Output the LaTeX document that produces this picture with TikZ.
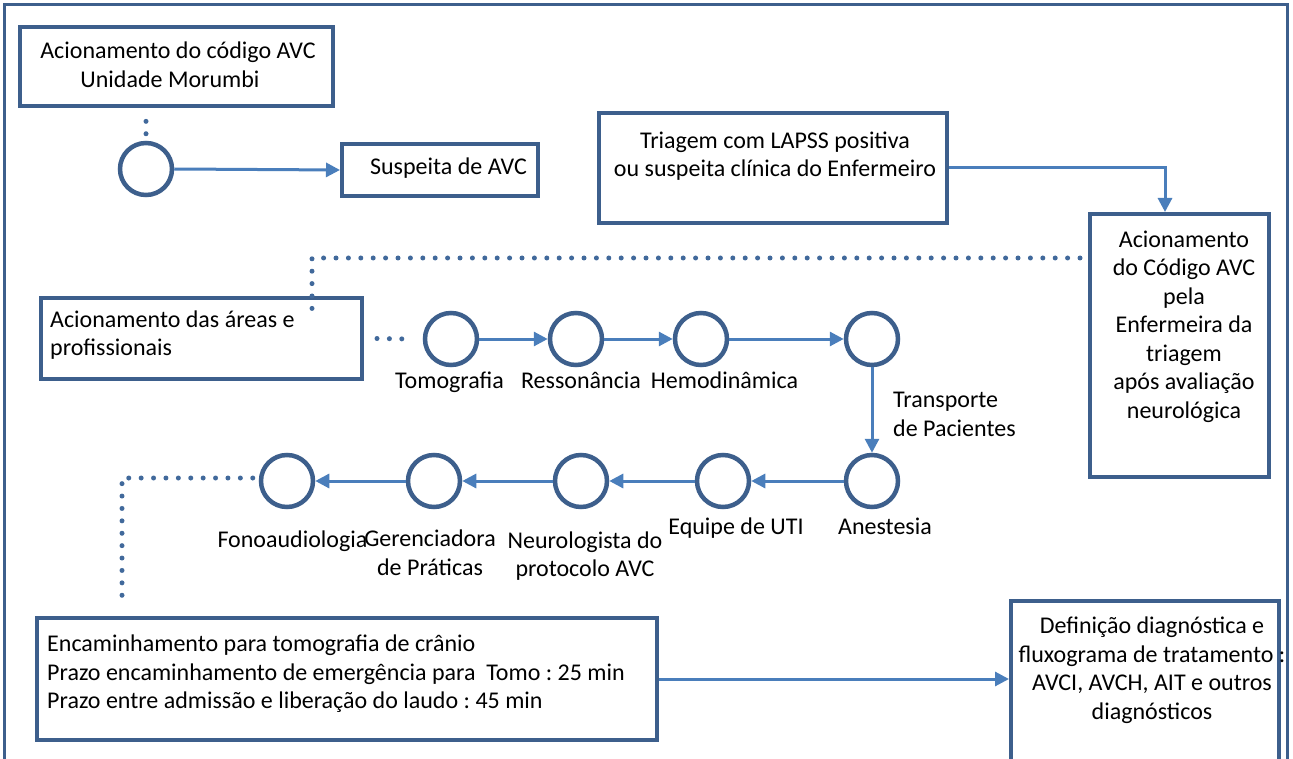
\documentclass[tikz,border=0pt]{standalone}
\usepackage{fontspec}
\setmainfont{Carlito}
\usetikzlibrary{arrows.meta}
\definecolor{frameblue}{HTML}{3D5F8C}
\definecolor{flowblue}{HTML}{4A7EBB}
\definecolor{dotblue}{HTML}{41699B}
\tikzset{
  box/.style={draw=frameblue, line width=4pt, inner sep=0pt},
  stage/.style={circle, draw=frameblue, line width=4.5pt, minimum size=52pt, inner sep=0pt},
  txt/.style={inner sep=0pt, font=\fontsize{24}{28.5}\selectfont},
  flow/.style={draw=flowblue, line width=3pt, -{Triangle[length=14pt,width=14pt]}},
  dots/.style={draw=dotblue, line width=5pt, line cap=round, dash pattern=on 0pt off 12.4pt}
}
\frenchspacing
\begin{document}
\begin{tikzpicture}[x=1pt, y=-1pt]
  \useasboundingbox (0,0) rectangle (1293,759);
  \draw[frameblue, line width=3pt] (4,770) |- (1287,5) -- (1287,770); % outer frame

  % boxes
  \node[box, minimum width=313pt, minimum height=79pt] (codigo) at (176.5,66.5) {};
  \node[box, minimum width=196pt, minimum height=52pt] (suspeita) at (440,170) {};
  \node[box, minimum width=348pt, minimum height=110pt] (triagem) at (773,168) {};
  \node[box, minimum width=179pt, minimum height=263pt] (enfermeira) at (1179.5,345.5) {};
  \node[box, minimum width=321pt, minimum height=81pt] (areas) at (201.5,338.5) {};
  \node[box, minimum width=620pt, minimum height=122pt] (encaminha) at (347,679) {};
  \node[box, minimum width=268pt, minimum height=169pt] (definicao) at (1145,685.5) {};

  % box texts
  \node[txt, align=center] (codigotxt) at (178,65) {Acionamento do código AVC\\Unidade Morumbi\hspace*{16pt}};
  \node[txt] (suspeitatxt) at (448.5,168) {Suspeita de AVC};
  \node[txt, align=center] (triagemtxt) at (775,156) {Triagem com LAPSS positiva\\ou suspeita clínica do Enfermeiro};
  \node[txt, align=center] (enfermeiratxt) at (1184,326.5) {Acionamento\\do Código AVC\\pela\\Enfermeira da\\triagem\\após avaliação\\neurológica};
  \node[txt, align=left, anchor=west] (areastxt) at (50,335) {Acionamento das áreas e\\profissionais};
  \node[txt, align=left, anchor=west] (encaminhatxt) at (47,674) {Encaminhamento para tomografia de crânio\\Prazo encaminhamento de emergência para \ Tomo : 25 min\\Prazo entre admissão e liberação do laudo : 45 min};
  \node[txt, align=center] (definicaotxt) at (1152,670) {Definição diagnóstica e\\fluxograma de tratamento :\\AVCI, AVCH, AIT e outros\\diagnósticos};

  % circles
  \node[stage] (inicio) at (146,169) {};
  \node[stage] (tomo) at (451,339) {}; % row 1
  \node[stage] (resso) at (576,339) {};
  \node[stage] (hemo) at (701,339) {};
  \node[stage] (transp) at (872,339) {};
  \node[stage] (anest) at (872,481) {}; % row 2
  \node[stage] (uti) at (723,481) {};
  \node[stage] (neuro) at (581,481) {};
  \node[stage] (geren) at (434,481) {};
  \node[stage] (fono) at (287,481) {};

  % circle labels
  \node[txt, anchor=base] (tomotxt) at (449.5,388) {Tomografia};
  \node[txt, anchor=base] (ressotxt) at (581,388) {Ressonância};
  \node[txt, anchor=base] (hemotxt) at (724.5,388) {Hemodinâmica};
  \node[txt, align=left, anchor=west] (transptxt) at (893,414.5) {Transporte\\de Pacientes};
  \node[txt, anchor=base] (anesttxt) at (885,534) {Anestesia};
  \node[txt, anchor=base] (utitxt) at (736,534) {Equipe de UTI};
  \node[txt, align=center] (neurotxt) at (585,556) {Neurologista do\\protocolo AVC};
  \node[txt, align=center] (gerentxt) at (430,553) {Gerenciadora\\de Práticas};
  \node[txt, anchor=base] (fonotxt) at (292.5,547) {Fonoaudiologia};

  % arrows
  \draw[flow] (inicio.east) -- (suspeita.west);
  \draw[flow] (triagem.east) -| ([xshift=-14.5pt]enfermeira.north);
  \draw[flow] (tomo) -- (resso);
  \draw[flow] (resso) -- (hemo);
  \draw[flow] (hemo) -- (transp);
  \draw[flow] (transp) -- (anest);
  \draw[flow] (anest) -- (uti);
  \draw[flow] (uti) -- (neuro);
  \draw[flow] (neuro) -- (geren);
  \draw[flow] (geren) -- (fono);
  \draw[flow] (encaminha.east) -- (encaminha.east -| definicao.west);

  % dotted links
  \coordinate (dotstart) at (1080,258);
  \coordinate (dotcorner) at (312,258);
  \coordinate (areasdot) at (312,316);
  \coordinate (fonoend) at (122,606);
  \draw[dots] ([yshift=7pt]inicio.north) -- ([yshift=21pt]inicio.north);
  \draw[dots] (dotstart) -- (dotcorner) -- (areasdot);
  \draw[dots] ([xshift=13pt]areas.east) -- ([xshift=-13pt]tomo.west);
  \draw[dots] ([xshift=-6pt,yshift=3pt]fono.west) -| (fonoend);
\end{tikzpicture}
\end{document}
